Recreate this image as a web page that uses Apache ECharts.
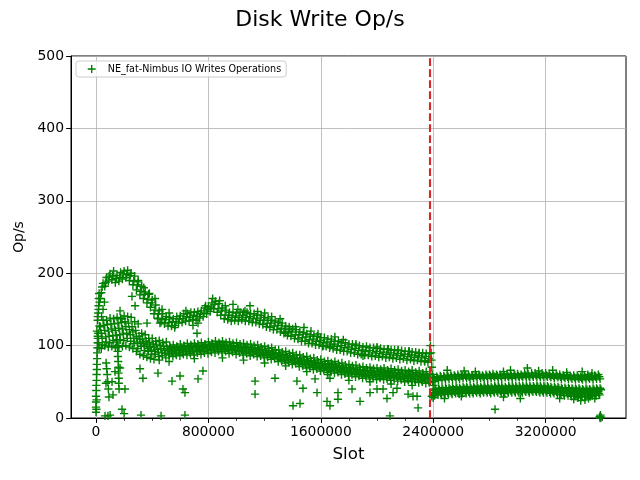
<!DOCTYPE html>
<html><head><meta charset="utf-8">
<script src="https://cdn.jsdelivr.net/npm/echarts@6/dist/echarts.min.js"></script>
<style>html,body{margin:0;padding:0;background:#fff}#c{width:640px;height:480px}</style>
</head><body><div id="c"></div>
<script>
const chartTitle = 'Disk Write Op/s';
const seriesName = 'NE_fat-Nimbus IO Writes Operations';
const xLabel = 'Slot';
const yLabel = 'Op/s';
const xMajorTicks = [0, 800000, 1600000, 2400000, 3200000];
const xMinorTicks = [200000, 400000, 600000, 1000000, 1200000, 1400000, 1800000, 2000000, 2200000, 2600000, 2800000, 3000000, 3400000, 3600000];
const yTicks = [0, 100, 200, 300, 400, 500];
const boundarySlot = 2375000;

// Sampling: slot of value i = start + i * step
const preStep = 25000;
const lowerTopStart = 25000;
const lowerTop = [
127,135,135,138,137,139,138,141,140,139,
133,130,117,115,110,110,106,107,104,105,
99,101,99,102,100,103,101,103,102,104,
102,105,103,106,104,106,104,105,103,104,
102,103,101,102,100,101,98,99,96,97,
94,94,91,92,89,90,87,87,84,85,
82,83,80,81,78,79,76,78,75,76,
73,74,72,73,70,71,69,70,68,69,
67,69,66,68,66,67,65,66,64,66,
63,65,62,64,61];
const lowerTMStart = 6250;
const lowerTM = [
120,126,128,129,130,130,131,132,133,131,
126,121,113,109,106,104,102,101,100,99,
96,97,96,98,97,99,98,99,99,100,
99,101,100,102,101,102,101,101,100,100,
99,99,98,98,97,97,95,95,93,93,
91,90,88,88,86,86,84,83,81,81,
79,79,77,77,75,75,73,74,72,72,
70,70,69,69,67,67,66,66,65,65,
64,65,63,64,63,63,62,62,61,62,
60,61,59,60,58];
const lowerMidStart = 12500;
const lowerMid = [
113,117,121,120,123,121,124,123,126,122,
119,112,109,103,102,98,98,95,96,93,
94,92,94,93,95,94,96,94,97,95,
97,96,98,97,99,97,99,96,98,95,
97,94,96,93,95,92,93,90,91,88,
89,85,86,83,84,81,82,78,79,76,
77,74,75,72,73,70,71,69,70,67,
68,65,67,64,65,62,64,61,63,60,
62,60,61,59,61,58,60,57,59,57,
58,56,57,55,56];
const lowerMBStart = 18750;
const lowerMB = [
104,110,112,113,114,114,115,116,117,115,
110,105,103,99,96,94,92,91,90,89,
89,90,89,91,90,92,91,92,92,93,
92,94,93,95,94,95,94,94,93,93,
92,92,91,91,90,90,88,88,86,86,
84,83,81,81,79,79,77,76,74,74,
72,72,70,70,68,68,66,67,65,65,
63,63,62,62,60,60,59,59,58,58,
57,58,56,57,56,56,55,55,54,55,
53,54,52,53,51];
const lowerBotStart = 22000;
const lowerBot = [
97,101,105,104,107,105,108,107,110,106,
103,96,99,93,92,88,88,85,86,83,
87,85,87,86,88,87,89,87,90,88,
90,89,91,90,92,90,92,89,91,88,
90,87,89,86,88,85,86,83,84,81,
82,78,79,76,77,74,75,71,72,69,
70,67,68,65,66,63,64,62,63,60,
61,58,60,57,58,55,57,54,56,53,
55,53,54,52,54,51,53,50,52,50,
51,49,50,48,49];
const lowerFringeStart = 37500;
const lowerFringe = [96,100,98,99,97,98,99,100,98,96,92,88,86,84,82,81];
const upperAStart = 25000;
const upperA = [
160,186,194,199,203,197,201,203,204,200,
196,188,182,174,171,163,156,148,144,140,
139,137,140,141,144,144,146,146,147,148,
152,154,159,161,158,152,149,146,146,145,
146,146,146,144,144,142,142,139,138,135,
134,132,131,127,126,123,122,119,118,116,
115,113,113,111,111,109,109,106,106,104,
104,102,102,100,100,98,99,97,97,96,
96,95,95,94,94,93,93,92,92,91,
91,90,90,89,89];
const upperMStart = 18750;
const upperM = [
150,181,187,196,196,193,194,199,198,197,
189,184,175,171,164,159,149,144,137,136,
132,133,133,137,137,140,139,142,140,144,
145,150,152,157,151,148,142,142,139,141,
139,142,139,140,137,138,135,135,131,131,
127,128,124,123,119,119,115,115,111,112,
108,109,106,107,104,105,102,102,99,100,
97,98,95,96,93,94,92,93,90,92,
89,91,88,90,87,89,86,88,85,87,
84,86,83,85,82];
const upperBStart = 12500;
const upperB = [
140,173,182,189,191,187,189,192,194,190,
184,177,170,165,159,153,144,138,132,130,
127,127,128,131,132,134,134,136,135,138,
140,144,147,151,146,142,137,136,134,135,
134,136,134,134,132,132,130,129,126,125,
122,122,119,117,114,113,110,109,106,106,
103,103,101,101,99,99,97,96,94,94,
92,92,90,90,88,88,87,87,85,86,
84,85,83,84,82,83,81,82,80,81,
79,80,78,79,77];

const postStep = 25000;
const postUpAStart = 2400000;
const postUpA = [
56,57,58,58,59,59,59,60,59,60,60,59,
60,60,59,60,60,61,60,60,61,60,61,61,
61,60,62,61,62,62,61,62,62,61,60,61,
60,59,60,58,59,59,57,59,58,58,59,60];
const postUpMStart = 2406250;
const postUpM = [
54,55,56,56,57,57,57,57,58,58,57,58,
58,58,57,58,58,58,58,58,59,58,58,59,
58,58,59,58,59,59,59,59,59,58,58,58,
57,57,57,56,56,56,55,56,56,56,57,57];
const postUpBStart = 2412500;
const postUpB = [
51,52,53,53,54,54,54,54,55,55,54,55,
55,55,55,55,55,56,55,55,56,56,55,56,
56,56,57,56,57,57,56,56,57,56,55,56,
54,55,54,54,53,54,53,53,54,53,54,54];
const postLowTopStart = 2412500;
const postLowTop = [
40,41,42,42,42,43,43,42,43,43,43,43,
44,43,44,44,43,44,44,44,43,44,44,44,
44,44,45,44,44,45,44,44,44,43,43,43,
42,42,42,41,41,41,40,41,40,41,41,41];
const postLowTMStart = 2418750;
const postLowTM = [
38,39,39,40,40,40,41,40,41,41,41,41,
41,41,42,41,41,42,42,41,41,42,42,42,
42,42,42,42,42,43,42,42,42,41,41,41,
40,40,40,39,39,39,38,39,38,39,39,39];
const postLowMidStart = 2400000;
const postLowMid = [
35,36,37,37,37,38,38,38,38,39,38,39,
39,39,39,39,39,39,40,39,39,40,39,40,
40,39,40,40,40,40,40,39,40,39,38,39,
37,37,37,36,36,36,35,36,35,36,36,37];
const postLowMBStart = 2403125;
const postLowMB = [
33,34,34,35,35,35,36,35,36,36,36,36,
37,36,37,37,36,37,37,37,36,37,37,37,
37,37,38,37,38,38,37,37,37,36,36,36,
35,34,34,33,33,33,32,33,32,33,33,34];
const postLowBotStart = 2409375;
const postLowBot = [
31,32,32,33,33,33,34,33,34,34,34,34,
35,34,35,35,34,35,35,35,34,35,35,35,
35,35,36,35,36,36,35,35,35,34,34,33,
32,31,31,30,30,31,30,29,30,31,31,32];

// [slot, ops] individual samples
const rampPoints = [[0,8],[0,15],[0,22],[0,30],[2000,38],[2000,45],[4000,52],[4000,60],[6000,67],[6000,74],[8000,82],[8000,90],[10000,97],[12000,104],[14000,110],[16000,117],[3000,12],[5000,25],[12000,135],[15000,145],[18000,155],[20000,165],[22000,172],[30000,165],[40000,140],[50000,150],[60000,160]];
const columnPoints = [[150000,108],[152000,100],[154000,92],[156000,85],[158000,78],[160000,70],[160000,62],[162000,55],[162000,48],[164000,40],[72000,76],[76000,68],[80000,60],[84000,50],[88000,40],[92000,29],[114000,50],[135000,64],[121000,32],[71000,48]];
const scatterPoints = [[64000,3],[85000,3],[100000,4],[185000,12],[200000,6],[320000,4],[463000,3],[633000,4],
[171000,69],[206000,40],[313000,68],[334000,55],[441000,62],[541000,51],[598000,58],[619000,40],[633000,35],[726000,54],[761000,65],[1132000,51],[1132000,33],[1274000,55],
[1402000,17],[1430000,51],[1473000,41],[1452000,20],[1559000,54],[1573000,35],[1644000,23],[1665000,17],[1665000,55],[1722000,35],[1722000,26],[1822000,40],[1879000,23],[1950000,35],[2000000,40],[2043000,40],[2071000,27],[2092000,3],[2114000,35],[2142000,41],[2221000,33],[2256000,30],[2285000,30],[2292000,14],
[171000,148],[185000,137],[256000,168],[278000,155],[363000,131],[441000,137],[455000,131],[719000,117],[726000,131],[975000,157],[1096000,155],[1665000,99],[1420000,126],[1380000,122]];
const upperEdgePoints = [[300000,190],[340000,180],[380000,172],[420000,165],[470000,150],[520000,145],[560000,125],[640000,148],[690000,128],[780000,155],[830000,165],[880000,162],[920000,155],[1010000,150],[1060000,148],[1150000,147],[1200000,145],[1250000,140],[1310000,137],[1350000,118],[1480000,125],[1530000,120],[1580000,116],[1620000,100],[1700000,112],[1760000,108],[1850000,102],[1900000,86],[2000000,98],[2080000,95],[2150000,94],[2230000,92],[2300000,89],[2340000,78]];
const lowerEdgePoints = [[450000,80],[520000,78],[700000,82],[900000,83],[1050000,80],[1200000,76],[1350000,72],[1500000,64],[1650000,60],[1800000,52],[1950000,50],[2100000,47],[2250000,45]];
const transitionPoints = [[2380000,100],[2385000,90],[2388000,80],[2390000,70],[2393000,60],[2396000,50],[2400000,45],[2402000,38],[2404000,33],[2390000,30],[2400000,28]];
const postScatterPoints = [[2480000,27],[2840000,12],[3020000,27],[3070000,69],[3430000,28],[3480000,25],[3520000,30],[3550000,27],[3460000,64],[3530000,62],[2620000,65],[2900000,64],[3250000,66],
[2500000,66],[2700000,64],[2950000,66],[3150000,65],[3350000,63],[3500000,60],[2600000,30],[2900000,29],[3300000,27],[3400000,26],[3450000,24],[3505000,27],
[3585000,2],[3590000,4],[3595000,1],[3588000,0]];

const rows = [
  [lowerTopStart, preStep, lowerTop], [lowerTMStart, preStep, lowerTM], [lowerMidStart, preStep, lowerMid],
  [lowerMBStart, preStep, lowerMB], [lowerBotStart, preStep, lowerBot], [lowerFringeStart, preStep, lowerFringe],
  [upperAStart, preStep, upperA], [upperMStart, preStep, upperM], [upperBStart, preStep, upperB],
  [postUpAStart, postStep, postUpA], [postUpMStart, postStep, postUpM], [postUpBStart, postStep, postUpB],
  [postLowTopStart, postStep, postLowTop], [postLowTMStart, postStep, postLowTM], [postLowMidStart, postStep, postLowMid],
  [postLowMBStart, postStep, postLowMB], [postLowBotStart, postStep, postLowBot]
];
const data = [];
rows.forEach(([start, step, vals]) => vals.forEach((v, i) => data.push([start + i * step, v])));
[rampPoints, columnPoints, scatterPoints, upperEdgePoints, lowerEdgePoints, transitionPoints, postScatterPoints].forEach(list => list.forEach(p => data.push(p)));

const plus = 'path://M50,0 L50,100 M0,50 L100,50';
const font = 'DejaVu Sans';
const green = '#008000';
const xMin = -178000, xMax = 3772000;

const chart = echarts.init(document.getElementById('c'), null, {renderer: 'canvas'});
chart.setOption({
  animation: false,
  backgroundColor: '#fff',
  title: {text: chartTitle, left: 'center', top: 4, textStyle: {fontFamily: font, fontSize: 22, fontWeight: 'normal', color: '#000'}},
  legend: {
    left: 76, top: 61, padding: [3, 5, 3, 11], itemWidth: 22, itemHeight: 8, itemGap: 0,
    backgroundColor: 'rgba(255,255,255,0.8)', borderColor: '#cccccc', borderWidth: 1, borderRadius: 3,
    textStyle: {fontFamily: font, fontSize: 9.6, color: '#000'},
    itemStyle: {color: green, borderColor: green, borderWidth: 1.4},
    data: [{name: seriesName, icon: plus}]
  },
  grid: {left: 71, right: 14, top: 56, bottom: 62, show: true, borderColor: '#000', borderWidth: 1, backgroundColor: 'transparent'},
  xAxis: [{
    type: 'value', min: xMin, max: xMax,
    axisLine: {show: true, onZero: false, lineStyle: {color: '#000', width: 1}},
    axisTick: {show: true, length: 4.9, customValues: xMajorTicks, lineStyle: {color: '#000', width: 1}},
    axisLabel: {show: true, customValues: xMajorTicks, margin: 7, color: '#000', fontFamily: font, fontSize: 13.9, formatter: v => String(v)},
    splitLine: {show: true, lineStyle: {color: '#b0b0b0', width: 0.8}},
    name: xLabel, nameLocation: 'middle', nameGap: 28, nameTextStyle: {fontFamily: font, fontSize: 16.7, color: '#000'}
  }, {
    type: 'value', min: xMin, max: xMax, position: 'bottom',
    axisLine: {show: false, onZero: false},
    axisTick: {show: true, length: 2.8, customValues: xMinorTicks, lineStyle: {color: '#000', width: 0.8}},
    axisLabel: {show: false},
    splitLine: {show: false}
  }],
  yAxis: {
    type: 'value', min: yTicks[0], max: yTicks[yTicks.length - 1], interval: 100,
    axisLine: {show: true, onZero: false, lineStyle: {color: '#000', width: 1}},
    axisTick: {show: true, length: 4.9, lineStyle: {color: '#000', width: 1}},
    axisLabel: {margin: 7, color: '#000', fontFamily: font, fontSize: 13.9},
    splitLine: {show: true, lineStyle: {color: '#b0b0b0', width: 0.8}},
    name: yLabel, nameLocation: 'middle', nameGap: 39, nameRotate: 90, nameTextStyle: {fontFamily: font, fontSize: 13.9, color: '#000'}
  },
  series: [{
    type: 'scatter', name: seriesName, xAxisIndex: 0, data: data,
    symbol: plus, symbolSize: 8.3,
    itemStyle: {color: green, borderColor: green, borderWidth: 1.4, opacity: 1},
    silent: true, large: false,
    markLine: {
      silent: true, symbol: ['none', 'none'], label: {show: false},
      lineStyle: {color: '#d62728', width: 2.1, type: [7.7, 3.3]},
      data: [{xAxis: boundarySlot}]
    }
  }]
});
</script></body></html>
